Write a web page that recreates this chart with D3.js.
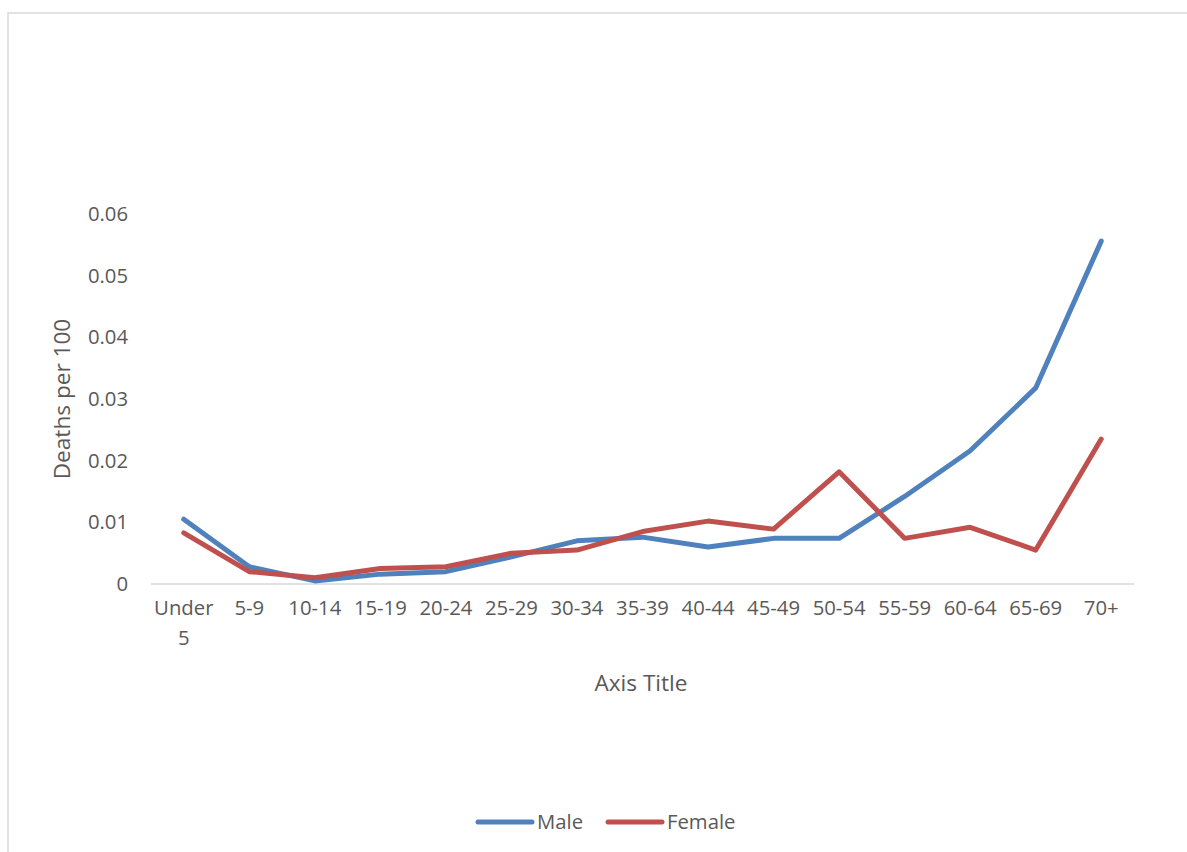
<!DOCTYPE html>
<html>
<head>
<meta charset="utf-8">
<script src="https://cdn.jsdelivr.net/npm/d3@7"></script>
<style>
  body { margin: 0; background: #fff; }
  svg { display: block; }
  text { font-family: "Open Sans", "Liberation Sans", sans-serif; fill: #595959; }
</style>
</head>
<body>
<svg id="chart" width="1187" height="852"></svg>
<script>
// Age groups on the category axis
const ageGroups = ["Under 5", "5-9", "10-14", "15-19", "20-24", "25-29", "30-34",
  "35-39", "40-44", "45-49", "50-54", "55-59", "60-64", "65-69", "70+"];

// Deaths per 100 by age group
const maleValues = [0.0105, 0.0028, 0.0005, 0.0016, 0.0020, 0.0044, 0.0070,
  0.0076, 0.0060, 0.0074, 0.0074, 0.0142, 0.0216, 0.0318, 0.0556];
const femaleValues = [0.0083, 0.0020, 0.0010, 0.0025, 0.0028, 0.0050, 0.0055,
  0.0085, 0.0102, 0.0089, 0.0182, 0.0074, 0.0092, 0.0055, 0.0235];

// Value axis ticks and their labels
const yTicks = [0, 0.01, 0.02, 0.03, 0.04, 0.05, 0.06];
const yTickLabels = ["0", "0.01", "0.02", "0.03", "0.04", "0.05", "0.06"];

const seriesNames = ["Male", "Female"];
const seriesColors = ["#4F81BD", "#C0504D"];

const svg = d3.select("#chart");
const plot = { left: 151, right: 1134, top: 214, bottom: 584 };

// Outer chart frame
svg.append("rect")
  .attr("x", 8).attr("y", 13)
  .attr("width", 1200).attr("height", 900)
  .attr("fill", "none")
  .attr("stroke", "#d9d9d9")
  .attr("stroke-width", 1.5);

const x = d3.scaleBand().domain(ageGroups).range([plot.left, plot.right]).padding(0);
const y = d3.scaleLinear().domain([0, 0.06]).range([plot.bottom, plot.top]);
const cx = d => x(d) + x.bandwidth() / 2;

// Value axis labels
const yAxis = svg.append("g").attr("transform", `translate(${plot.left - 23},0)`)
  .call(d3.axisLeft(y).tickValues(yTicks).tickFormat((d, i) => yTickLabels[i]).tickSize(0).tickPadding(0));
yAxis.select(".domain").remove();
yAxis.selectAll("text")
  .attr("font-size", 20.3)
  .attr("font-family", "Open Sans")
  .attr("fill", "#595959");

// Category axis line
svg.append("line")
  .attr("x1", plot.left).attr("x2", plot.right)
  .attr("y1", y(0)).attr("y2", y(0))
  .attr("stroke", "#d9d9d9").attr("stroke-width", 1.5);

// Category labels, wrapped to the band width
const catLabels = svg.append("g").attr("font-size", 20.3);
ageGroups.forEach(label => {
  const t = catLabels.append("text")
    .attr("x", cx(label)).attr("y", 615)
    .attr("text-anchor", "middle")
    .attr("dy", "0.35em");
  const words = label.split(" ");
  let line = [];
  let tspan = t.append("tspan").attr("x", cx(label)).attr("dy", 0);
  words.forEach(w => {
    line.push(w);
    tspan.text(line.join(" "));
    if (tspan.node().getComputedTextLength() > x.bandwidth() - 4 && line.length > 1) {
      line.pop();
      tspan.text(line.join(" "));
      line = [w];
      tspan = t.append("tspan").attr("x", cx(label)).attr("dy", 30).text(w);
    }
  });
});

// Series lines
const lineGen = d3.line().x((d, i) => cx(ageGroups[i])).y(d => y(d));
[maleValues, femaleValues].forEach((vals, i) => {
  svg.append("path")
    .datum(vals)
    .attr("d", lineGen)
    .attr("fill", "none")
    .attr("stroke", seriesColors[i])
    .attr("stroke-width", 5)
    .attr("stroke-linejoin", "round")
    .attr("stroke-linecap", "round");
});

// Axis titles
svg.append("text")
  .attr("transform", `translate(${62},${(plot.top + plot.bottom) / 2}) rotate(-90)`)
  .attr("text-anchor", "middle")
  .attr("dy", "0.35em")
  .attr("font-size", 22.6)
  .text("Deaths per 100");

svg.append("text")
  .attr("x", 641).attr("y", 683)
  .attr("text-anchor", "middle")
  .attr("dy", "0.35em")
  .attr("font-size", 22.6)
  .text("Axis Title");

// Legend
const legendX = [478, 608];
seriesNames.forEach((name, i) => {
  const g = svg.append("g").attr("transform", `translate(${legendX[i]},822)`);
  g.append("line")
    .attr("x1", 0).attr("x2", 54).attr("y1", 0).attr("y2", 0)
    .attr("stroke", seriesColors[i]).attr("stroke-width", 5)
    .attr("stroke-linecap", "round");
  g.append("text")
    .attr("x", 59).attr("y", 0).attr("dy", "0.35em")
    .attr("font-size", 20.3)
    .text(name);
});
</script>
</body>
</html>
